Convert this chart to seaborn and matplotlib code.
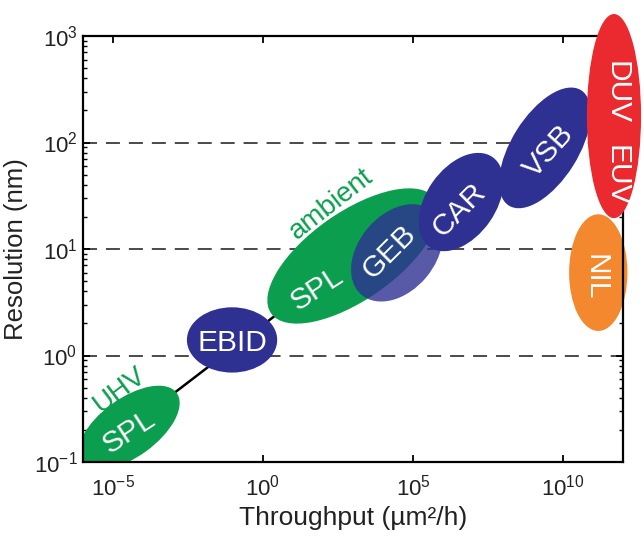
import numpy as np
import pandas as pd
import matplotlib
matplotlib.use("Agg")
import matplotlib.pyplot as plt
from matplotlib.patches import Ellipse
from matplotlib.transforms import ScaledTranslation
from matplotlib.ticker import FixedLocator, NullLocator, LogLocator, FuncFormatter
import seaborn as sns

# Lithography techniques: typical throughput (µm²/h) and achievable resolution (nm)
techniques = ["SPL", "EBID", "SPL", "GEB", "CAR", "VSB", "DUV\u2003EUV", "NIL"]
environment = ["UHV", "", "ambient", "", "", "", "", ""]
throughput = [3.4e-5, 0.093, 1.0e3, 2.9e4, 4.0e6, 2.5e9, 5.0e11, 1.5e11]
resolution = [0.21, 1.4, 8.6, 9.2, 27.6, 89.0, 177.0, 6.0]

x_ticks = [1e-5, 1e0, 1e5, 1e10]
guide_levels = [1, 10, 100]

df = pd.DataFrame({
    "technique": techniques,
    "environment": environment,
    "throughput": throughput,
    "resolution": resolution,
})

GREEN = "#0a9e4e"
NAVY = "#2e3192"
RED = "#ea2a2e"
ORANGE = "#f3882f"

# ellipse appearance per row: width, height (pt), angle, colour, alpha, zorder, clip
shapes = [
    (85, 42, 36, GREEN, 1.0, 1.0, True),
    (65, 47, 0, NAVY, 1.0, 1.1, True),
    (144, 63, 35, GREEN, 1.0, 1.2, True),
    (79, 55, 50, NAVY, 0.8, 1.3, True),
    (79, 50, 55, NAVY, 1.0, 1.4, True),
    (98, 48, 58, NAVY, 1.0, 1.5, True),
    (39, 147, 0, RED, 1.0, 3.0, False),
    (42, 84, 0, ORANGE, 1.0, 2.0, False),
]
# label placement per row: offset from centre (pt), rotation
label_style = [
    ((-1, -1), 33),
    ((0, 0), 0),
    ((-27, -22), 33),
    ((-7, 2), 45),
    ((-3, -4), 45),
    ((1, -1), 48),
    ((4, -13), -90),
    ((0, -3), -90),
]
env_style = {
    "UHV": ((-8, 29), 37),
    "ambient": ((-17, 39), 38),
}

sns.set_theme(style="ticks")
plt.rcParams.update({
    "font.family": ["Liberation Sans", "DejaVu Sans"],
    "mathtext.default": "regular",
    "axes.edgecolor": "black",
    "axes.linewidth": 1.6,
})

fig = plt.figure(figsize=(6.44, 5.38), dpi=100)
fig.subplots_adjust(left=83 / 644, right=623 / 644, bottom=1 - 462 / 538, top=1 - 36 / 538)
ax = fig.add_subplot(111)
ax.set_xscale("log")
ax.set_yscale("log")
ax.set_xlim(1e-6, 1e12)
ax.set_ylim(1e-1, 1e3)

# dashed guide lines at whole decades of resolution
for lvl in guide_levels:
    ax.axhline(lvl, color="#4a4a4a", lw=1.4, ls=(0, (7.2, 4.6)), zorder=0.5)

# trend line joining the two scanning-probe entries
spl = df[df["technique"] == "SPL"]
sns.lineplot(data=spl, x="throughput", y="resolution", ax=ax,
             color="black", lw=1.8, zorder=0.8, sort=True)


def anchored(x, y):
    return fig.dpi_scale_trans + ScaledTranslation(x, y, ax.transData)


for i, row in df.iterrows():
    w, h, ang, col, alpha, z, clip = shapes[i]
    e = Ellipse((0, 0), w / 72, h / 72, angle=ang, transform=anchored(row.throughput, row.resolution),
                facecolor=col, edgecolor="none", alpha=alpha, zorder=z, clip_on=clip)
    ax.add_patch(e)
    (dx, dy), rot = label_style[i]
    names = row.technique.split("\u2003")
    if len(names) == 2:
        for name, oy in zip(names, (dy + 30, dy - 30)):
            ax.annotate(name, xy=(row.throughput, row.resolution), xytext=(dx, oy),
                        textcoords="offset points", ha="center", va="center_baseline",
                        rotation=rot, rotation_mode="anchor", color="white",
                        fontsize=21.5, zorder=6, annotation_clip=False)
    else:
        ax.annotate(row.technique, xy=(row.throughput, row.resolution), xytext=(dx, dy),
                    textcoords="offset points", ha="center", va="center_baseline",
                    rotation=rot, rotation_mode="anchor", color="white",
                    fontsize=21.5, zorder=6, annotation_clip=False)
    if row.environment:
        (ex, ey), erot = env_style[row.environment]
        ax.annotate(row.environment, xy=(row.throughput, row.resolution), xytext=(ex, ey),
                    textcoords="offset points", ha="center", va="center_baseline",
                    rotation=erot, rotation_mode="anchor", color=GREEN,
                    fontsize=20, zorder=6, annotation_clip=False)

ax.xaxis.set_major_locator(FixedLocator(x_ticks))
ax.xaxis.set_minor_locator(NullLocator())
ax.yaxis.set_major_locator(LogLocator(base=10))
ax.yaxis.set_minor_locator(LogLocator(base=10, subs=np.arange(2, 10)))
decade = FuncFormatter(lambda v, pos: rf"$10^{{{int(round(np.log10(v)))}}}$")
ax.xaxis.set_major_formatter(decade)
ax.yaxis.set_major_formatter(decade)

ax.tick_params(which="both", direction="in", top=True, right=True, color="black",
               labelsize=16, labelcolor="#222222")
ax.tick_params(which="major", length=5, width=1.3)
ax.tick_params(which="minor", length=3, width=1.0)
ax.tick_params(axis="x", pad=9)
ax.tick_params(axis="y", pad=4)

for s in ax.spines.values():
    s.set_color("black")
    s.set_linewidth(1.6)
    s.set_zorder(2.5)

ax.set_xlabel("Throughput (µm²/h)", fontsize=19, color="#222222", labelpad=4)
ax.set_ylabel("Resolution (nm)", fontsize=18.5, color="#222222", labelpad=4)

fig.savefig("out.png", dpi=100)
